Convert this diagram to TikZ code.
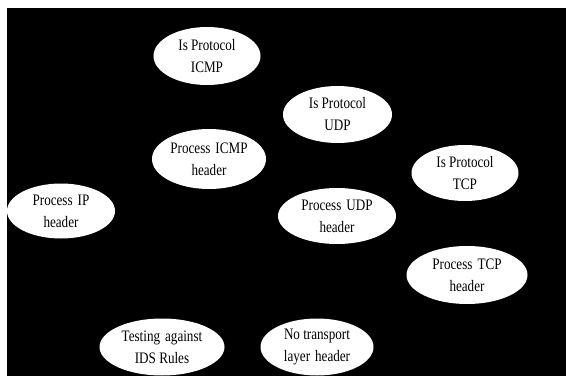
\documentclass[tikz,border=0pt]{standalone}
\usepackage{fontspec}
\setmainfont{Liberation Serif}[FakeStretch=0.82]
\usetikzlibrary{shapes.geometric}
\tikzset{
  bubble/.style={ellipse, fill=white, draw=none, inner sep=0pt, align=center,
    text=black, font=\fontsize{16}{22}\selectfont},
}
\newcommand{\wsp}{\hspace{5pt}}
\begin{document}
\begin{tikzpicture}[x=1pt,y=1pt]
\useasboundingbox (0,0) rectangle (566,376);
\fill[white] (0,0) rectangle (566,376);
\fill[black] (7,0) rectangle (566,368);
\node[bubble, minimum width=107pt, minimum height=58pt] (isicmp) at (207,320) {Is Protocol\\ICMP};
\node[bubble, minimum width=109pt, minimum height=57pt] (isudp) at (337.5,261.5) {Is Protocol\\UDP};
\node[bubble, minimum width=114pt, minimum height=60pt] (procicmp) at (209,217) {Process\wsp ICMP\\header};
\node[bubble, minimum width=107pt, minimum height=56pt] (istcp) at (465,203) {Is Protocol\\TCP};
\node[bubble, minimum width=108pt, minimum height=55pt] (procip) at (61,165) {Process\wsp IP\\header};
\node[bubble, minimum width=118pt, minimum height=56pt] (procudp) at (337,160) {Process\wsp UDP\\header};
\node[bubble, minimum width=121pt, minimum height=58pt] (proctcp) at (467,101) {Process\wsp TCP\\header};
\node[bubble, minimum width=125pt, minimum height=57pt] (testing) at (162,29) {Testing\wsp against\\IDS Rules};
\node[bubble, minimum width=113pt, minimum height=57pt] (notrans) at (317,29) {No transport\\layer\wsp header};
\end{tikzpicture}
\end{document}
